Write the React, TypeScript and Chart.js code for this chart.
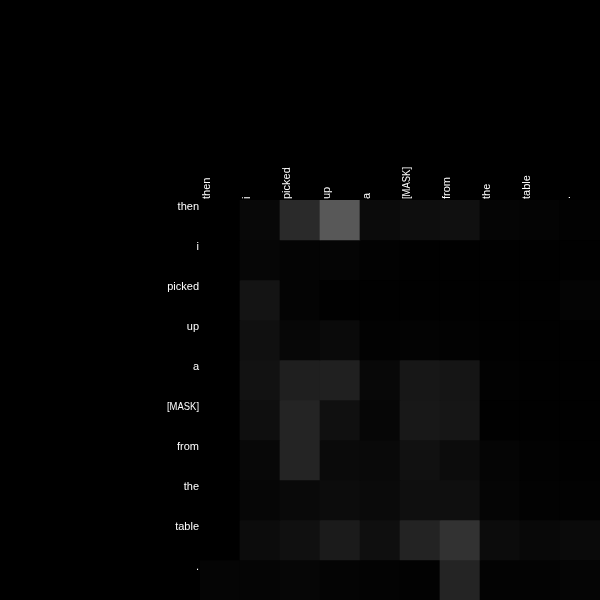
import React, { useEffect, useRef } from "react";
import { Chart, registerables } from "chart.js";

Chart.register(...registerables);

const tokens = ["then", "i", "picked", "up", "a", "[MASK]", "from", "the", "table", "."];

// attention weights (rows = query token, columns = key token), 0..1
const rowThen = [0, 0.031, 0.165, 0.345, 0.043, 0.055, 0.063, 0.02, 0.016, 0.008];
const rowI = [0, 0.024, 0.016, 0.02, 0.008, 0.004, 0.004, 0.004, 0.004, 0.004];
const rowPicked = [0, 0.078, 0.016, 0.004, 0.004, 0.004, 0.004, 0.004, 0.004, 0.016];
const rowUp = [0, 0.063, 0.027, 0.039, 0.008, 0.012, 0.008, 0.004, 0.004, 0.004];
const rowA = [0, 0.071, 0.122, 0.125, 0.031, 0.09, 0.082, 0.008, 0.004, 0.004];
const rowMask = [0, 0.059, 0.141, 0.063, 0.024, 0.094, 0.086, 0.004, 0.004, 0.004];
const rowFrom = [0, 0.031, 0.141, 0.039, 0.035, 0.067, 0.047, 0.02, 0.008, 0.004];
const rowThe = [0, 0.024, 0.035, 0.047, 0.039, 0.059, 0.059, 0.02, 0.008, 0.008];
const rowTable = [0, 0.047, 0.063, 0.106, 0.059, 0.137, 0.196, 0.047, 0.031, 0.039];
const rowDot = [0.02, 0.02, 0.024, 0.016, 0.012, 0.008, 0.141, 0.012, 0.012, 0.02];

const attention = [rowThen, rowI, rowPicked, rowUp, rowA, rowMask, rowFrom, rowThe, rowTable, rowDot];

const gray = (v: number) => {
  const g = Math.round(Math.max(0, Math.min(1, v)) * 255);
  return `rgb(${g},${g},${g})`;
};

const LABEL_MAX_WIDTH = 32;

const labelPlugin = {
  id: "tokenLabels",
  afterDraw(chart: any) {
    const ctx = chart.ctx;
    const xs = chart.scales.x;
    const ys = chart.scales.y;
    const area = chart.chartArea;
    ctx.save();
    ctx.fillStyle = "#ffffff";
    ctx.font = "11px 'Liberation Sans', Arial, sans-serif";
    // row labels (left)
    ctx.textAlign = "right";
    ctx.textBaseline = "top";
    tokens.forEach((t, i) => {
      const y = ys.getPixelForValue(i);
      ctx.fillText(t, area.left - 1, y + 1, LABEL_MAX_WIDTH);
    });
    // column labels (top, rotated)
    const step = xs.getPixelForValue(1) - xs.getPixelForValue(0);
    tokens.forEach((t, i) => {
      const x = xs.getPixelForValue(i) - step / 2;
      ctx.save();
      ctx.translate(x + 1, area.top - 1);
      ctx.rotate(-Math.PI / 2);
      ctx.textAlign = "left";
      ctx.textBaseline = "top";
      ctx.fillText(t, 0, 0, LABEL_MAX_WIDTH);
      ctx.restore();
    });
    ctx.restore();
  },
};

const bgPlugin = {
  id: "blackBg",
  beforeDraw(chart: any) {
    const ctx = chart.ctx;
    ctx.save();
    ctx.fillStyle = "#000000";
    ctx.fillRect(0, 0, chart.width, chart.height);
    ctx.restore();
  },
};

export default function App() {
  const ref = useRef<HTMLCanvasElement | null>(null);
  useEffect(() => {
    document.body.style.margin = "0";
    document.body.style.background = "#000";
    if (!ref.current) return;
    const datasets = attention.map((row, r) => ({
      label: tokens[r],
      data: row.map(() => [r, r + 1] as [number, number]),
      backgroundColor: row.map((v) => gray(v)),
      borderWidth: 0,
      barPercentage: 1,
      categoryPercentage: 1,
      grouped: false,
    }));
    const chart = new Chart(ref.current, {
      type: "bar",
      data: { labels: tokens, datasets: datasets as any },
      options: {
        animation: false,
        responsive: false,
        layout: { padding: { left: 200, top: 200, right: 0, bottom: 0 } },
        plugins: { legend: { display: false }, tooltip: { enabled: false } },
        scales: {
          x: { display: false, offset: true, grid: { display: false } },
          y: { display: false, min: 0, max: 10, reverse: true, grid: { display: false } },
        },
      },
      plugins: [bgPlugin, labelPlugin],
    });
    return () => chart.destroy();
  }, []);
  return <canvas ref={ref} width={600} height={600} style={{ display: "block" }} />;
}
